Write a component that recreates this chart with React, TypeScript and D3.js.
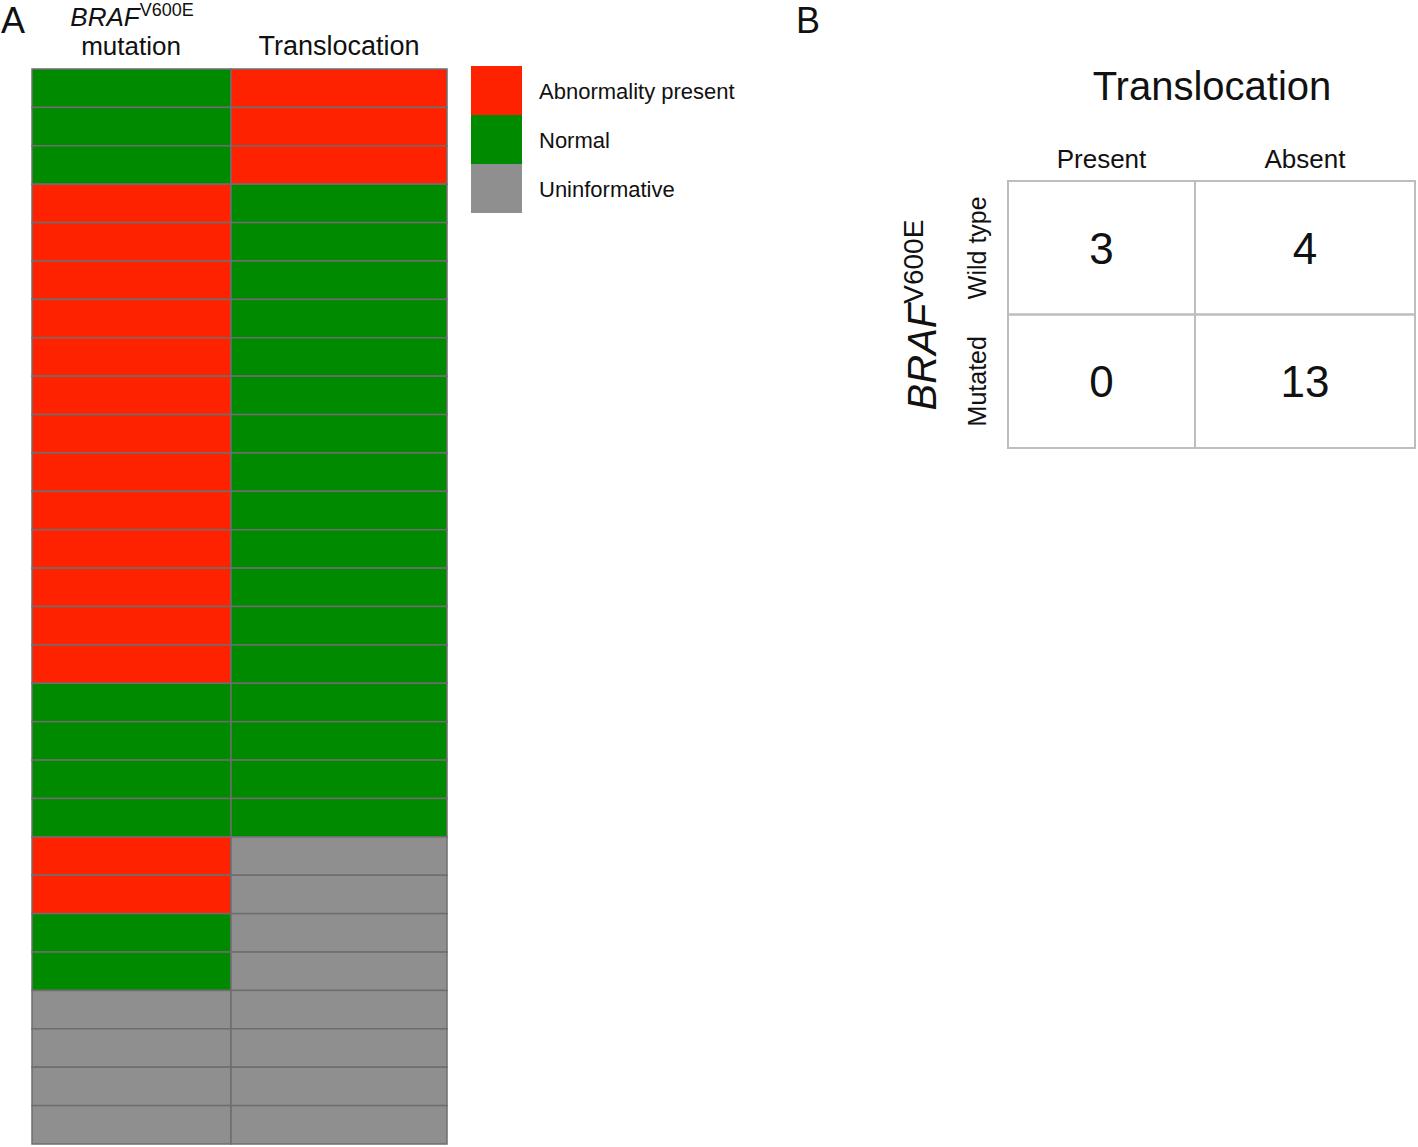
import * as d3 from 'd3'

// A = abnormality present, N = normal, U = uninformative
const columns = ['braf', 'translocation']
const brafStatus = [
  'N', 'N', 'N',
  'A', 'A', 'A', 'A', 'A', 'A', 'A', 'A', 'A', 'A', 'A', 'A', 'A',
  'N', 'N', 'N', 'N',
  'A', 'A', 'N', 'N',
  'U', 'U', 'U', 'U',
]
const translocationStatus = [
  'A', 'A', 'A',
  'N', 'N', 'N', 'N', 'N', 'N', 'N', 'N', 'N', 'N', 'N', 'N', 'N',
  'N', 'N', 'N', 'N',
  'U', 'U', 'U', 'U',
  'U', 'U', 'U', 'U',
]
const legendKeys = ['A', 'N', 'U']
const legendLabels = ['Abnormality present', 'Normal', 'Uninformative']

const tableCols = ['Present', 'Absent']
const tableRows = ['Wild type', 'Mutated']
const tableCounts = [
  [3, 4],
  [0, 13],
]

const FONT = '"Liberation Sans", Arial, sans-serif'

const App = () => {
  const width = 1418
  const height = 1147

  const color = d3
    .scaleOrdinal<string, string>()
    .domain(legendKeys)
    .range(['#ff2200', '#008a00', '#8f8f8f'])

  // column edges: 0 -> left, 1 -> split, 2 -> right
  const xEdge = d3.scaleLinear().domain([0, 1, 2]).range([32, 231, 447])
  const yRow = d3
    .scaleBand<number>()
    .domain(d3.range(brafStatus.length))
    .range([69, 1144])

  const cells = brafStatus.flatMap((b, i) => [
    { col: 0, row: i, v: b },
    { col: 1, row: i, v: translocationStatus[i] },
  ])

  const legendY = d3.scaleBand<string>().domain(legendKeys).range([66, 213])

  // table column edges are unequal too
  const tEdge = d3.scaleLinear().domain([0, 1, 2]).range([1008, 1195, 1415])
  const tMid = (i: number) => (tEdge(i) + tEdge(i + 1)) / 2
  const ty = d3.scaleBand<string>().domain(tableRows).range([181, 448])

  return (
    <svg
      width={width}
      height={height}
      style={{ position: 'absolute', left: 0, top: 0, fontFamily: FONT }}
    >
      <rect width={width} height={height} fill="#fff" />

      {/* Panel A */}
      <text x={1} y={33} fontSize={36} fill="#111">A</text>
      <text x={132} y={26} fontSize={26} textAnchor="middle" fill="#111">
        <tspan fontStyle="italic">BRAF</tspan>
        <tspan fontSize={18} dy={-10}>V600E</tspan>
      </text>
      <text x={131} y={55} fontSize={26} textAnchor="middle" fill="#111">
        mutation
      </text>
      <text x={(xEdge(1) + xEdge(2)) / 2} y={55} fontSize={27} textAnchor="middle" fill="#111">
        Translocation
      </text>
      <g data-cols={columns.join(',')}>
        {cells.map((c, i) => (
          <rect
            key={i}
            x={xEdge(c.col)}
            y={yRow(c.row)}
            width={xEdge(c.col + 1) - xEdge(c.col)}
            height={yRow.bandwidth()}
            fill={color(c.v)}
            stroke="#6e6e6e"
            strokeWidth={1.5}
          />
        ))}
      </g>

      {legendKeys.map((k, i) => (
        <g key={k}>
          <rect
            x={471}
            y={legendY(k)}
            width={51}
            height={legendY.bandwidth()}
            fill={color(k)}
          />
          <text
            x={539}
            y={(legendY(k) as number) + legendY.bandwidth() / 2 + 8}
            fontSize={22}
            fill="#111"
          >
            {legendLabels[i]}
          </text>
        </g>
      ))}

      {/* Panel B */}
      <text x={796} y={33} fontSize={36} fill="#111">B</text>
      <text x={1212} y={100} fontSize={40} textAnchor="middle" fill="#111">
        Translocation
      </text>
      {tableCols.map((c, i) => (
        <text key={c} x={tMid(i)} y={168} fontSize={26} textAnchor="middle" fill="#111">
          {c}
        </text>
      ))}
      {tableRows.map(r => (
        <text
          key={r}
          transform={`translate(986, ${(ty(r) as number) + ty.bandwidth() / 2}) rotate(-90)`}
          fontSize={25}
          textAnchor="middle"
          fill="#111"
        >
          {r}
        </text>
      ))}
      <text
        transform={`translate(936, 315) rotate(-90)`}
        fontSize={40}
        textAnchor="middle"
        fill="#111"
      >
        <tspan fontStyle="italic">BRAF</tspan>
        <tspan fontSize={28} dy={-13}>V600E</tspan>
      </text>
      {tableRows.map((r, ri) =>
        tableCols.map((c, ci) => (
          <g key={`${r}-${c}`}>
            <rect
              x={tEdge(ci)}
              y={ty(r)}
              width={tEdge(ci + 1) - tEdge(ci)}
              height={ty.bandwidth()}
              fill="none"
              stroke="#bdbdbd"
              strokeWidth={2}
            />
            <text
              x={tMid(ci)}
              y={(ty(r) as number) + ty.bandwidth() / 2 + 16}
              fontSize={44}
              textAnchor="middle"
              fill="#111"
            >
              {tableCounts[ri][ci]}
            </text>
          </g>
        ))
      )}
    </svg>
  )
}

export default App
